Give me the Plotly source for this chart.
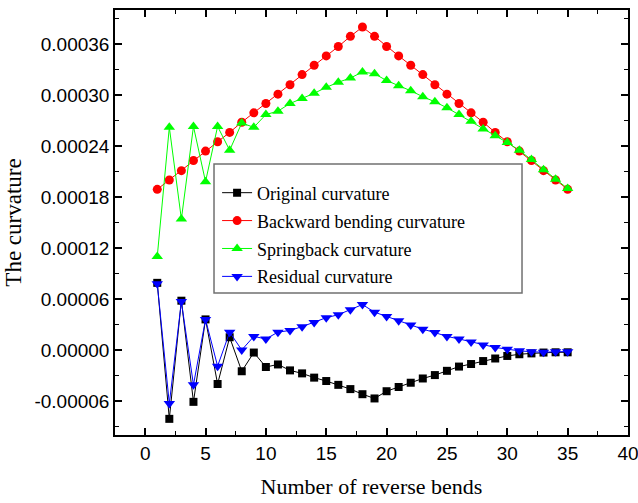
import plotly.graph_objects as go

bends = list(range(1, 36))

original = [7.9e-5, -8.1e-5, 5.8e-5, -6.1e-5, 3.6e-5, -4.0e-5, 1.5e-5, -2.5e-5, -0.3e-5, -2.0e-5,
            -1.7e-5, -2.4e-5, -2.75e-5, -3.25e-5, -3.65e-5, -4.1e-5, -4.6e-5, -5.2e-5, -5.7e-5, -4.85e-5,
            -4.35e-5, -3.85e-5, -3.35e-5, -2.95e-5, -2.45e-5, -1.95e-5, -1.65e-5, -1.3e-5, -1.0e-5, -0.7e-5,
            -0.5e-5, -0.4e-5, -0.3e-5, -0.27e-5, -0.27e-5]

backward = [0.000189, 0.000200, 0.000211, 0.000223, 0.000234, 0.000245, 0.000256, 0.000268, 0.000279, 0.000290,
            0.000301, 0.000312, 0.000324, 0.000335, 0.000346, 0.000357, 0.000369, 0.000380, 0.000369, 0.000357,
            0.000346, 0.000335, 0.000324, 0.000312, 0.000301, 0.000290, 0.000279, 0.000268, 0.000256, 0.000245,
            0.000234, 0.000223, 0.000211, 0.000200, 0.000189]

springback = [0.000110, 0.000262, 0.000154, 0.000263, 0.000198, 0.000263, 0.000235, 0.000267, 0.000262, 0.000277,
              0.000281, 0.000290, 0.000296, 0.000302, 0.000309, 0.000315, 0.000320, 0.000327, 0.000325, 0.000317,
              0.000311, 0.000305, 0.000298, 0.000292, 0.000285, 0.000277, 0.000269, 0.000260, 0.000252, 0.000244,
              0.000235, 0.000224, 0.000212, 0.000201, 0.000190]

residual = [7.8e-5, -6.3e-5, 5.7e-5, -4.1e-5, 3.6e-5, -1.9e-5, 2.1e-5, 0.0, 1.6e-5, 1.3e-5,
            2.1e-5, 2.3e-5, 2.75e-5, 3.25e-5, 3.8e-5, 4.15e-5, 4.75e-5, 5.35e-5, 4.45e-5, 3.95e-5,
            3.45e-5, 2.95e-5, 2.45e-5, 2.05e-5, 1.6e-5, 1.3e-5, 0.95e-5, 0.6e-5, 0.3e-5, 0.1e-5,
            -0.1e-5, -0.2e-5, -0.27e-5, -0.2e-5, -0.2e-5]

y_tickvals = [-0.00006, 0.0, 0.00006, 0.00012, 0.00018, 0.00024, 0.00030, 0.00036]
y_ticktext = ["-0.00006", "0.00000", "0.00006", "0.00012", "0.00018", "0.00024", "0.00030", "0.00036"]
x_tickvals = [0, 5, 10, 15, 20, 25, 30, 35, 40]

series = [
    ("Original curvature", original, "#000000", "square", 8),
    ("Backward bending curvature", backward, "#ff0000", "circle", 9),
    ("Springback curvature", springback, "#00ff00", "triangle-up", 10),
    ("Residual curvature", residual, "#0000ff", "triangle-down", 10),
]

fig = go.Figure()
for i, (name, vals, color, sym, sz) in enumerate(series):
    fig.add_trace(go.Scatter(
        x=bends, y=vals, name=name, mode="lines+markers",
        legendgroup=f"g{i}",
        line=dict(color=color, width=1),
        marker=dict(symbol=sym, size=sz, color=color, line=dict(width=0)),
    ))

serif = "Liberation Serif, Times New Roman, serif"
sans = "Liberation Sans, Arial, sans-serif"

axis_common = dict(
    showline=True, linecolor="black", linewidth=1.5, mirror="allticks",
    ticks="inside", ticklen=7, tickwidth=1.5, tickcolor="black",
    showgrid=False, zeroline=False, automargin=False, ticklabeloverflow="allow",
    tickfont=dict(family=sans, size=19, color="black"),
)

fig.update_xaxes(
    range=[-2.5, 40], tickvals=x_tickvals,
    minor=dict(ticks="inside", ticklen=4, tickwidth=1.2, tickcolor="black", dtick=2.5, tick0=0),
    title=dict(text="Number of reverse bends", font=dict(family=serif, size=22, color="black"), standoff=16),
    **axis_common,
)
fig.update_yaxes(
    range=[-0.0001, 0.0004], tickvals=y_tickvals, ticktext=y_ticktext,
    minor=dict(ticks="inside", ticklen=4, tickwidth=1.2, tickcolor="black", dtick=0.00003, tick0=0),
    title=dict(text="The curvature", font=dict(family=serif, size=23, color="#000000"), standoff=6),
    **axis_common,
)

fig.add_shape(type="rect", xref="paper", yref="paper",
              x0=0.193, x1=0.7934, y0=0.334, y1=0.6376,
              line=dict(color="#707070", width=1.5), fillcolor="rgba(0,0,0,0)")

fig.update_layout(
    width=638, height=503,
    margin=dict(l=115, r=10, t=10, b=68),
    paper_bgcolor="white", plot_bgcolor="white",
    showlegend=True,
    legend=dict(
        x=0.199, y=0.613, xanchor="left", yanchor="top",
        bgcolor="rgba(0,0,0,0)", borderwidth=0,
        font=dict(family=serif, size=18, color="black"),
        itemwidth=30, tracegroupgap=1.5,
    ),
)

fig.write_html("out.html", config={"displayModeBar": False},
               post_script="document.body.style.margin='0';document.body.style.overflow='hidden';")
